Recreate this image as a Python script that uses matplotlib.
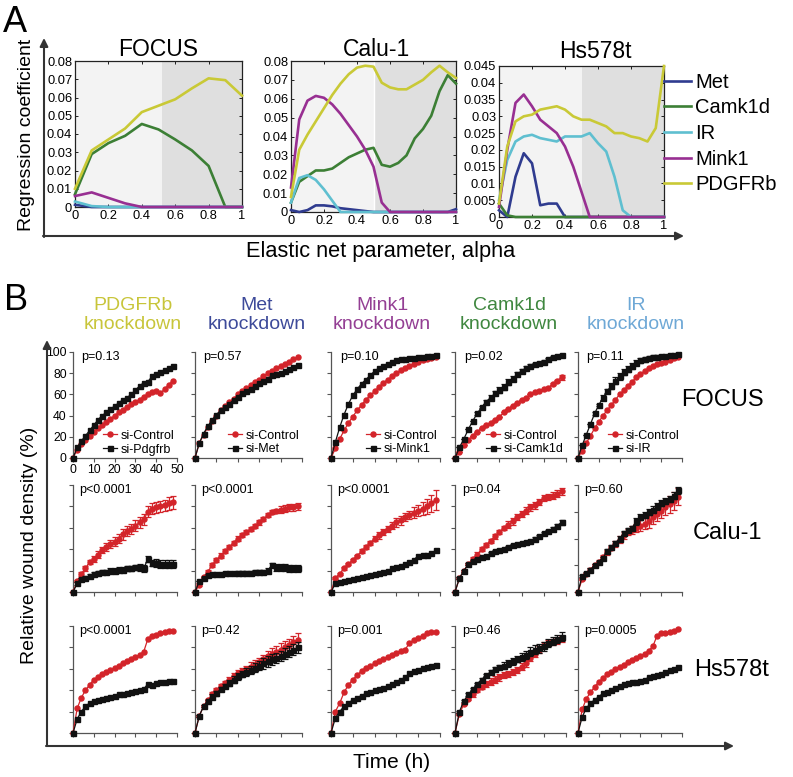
import matplotlib
matplotlib.use('Agg')
import matplotlib.pyplot as plt
from matplotlib.lines import Line2D
from matplotlib.ticker import FuncFormatter

plt.rcParams['font.family'] = ['Liberation Sans', 'DejaVu Sans']

W, H = 793, 777

# ---------------- panel A: regression coefficients vs alpha ----------------
alpha_coarse = [0, 0.1, 0.2, 0.3, 0.4, 0.5, 0.6, 0.7, 0.8, 0.9, 1.0]
focus_met = [0.0012, 0, 0, 0, 0, 0, 0, 0, 0, 0, 0]
focus_camk1d = [0.007, 0.029, 0.035, 0.039, 0.0455, 0.0425, 0.037, 0.031, 0.0225, 0, 0]
focus_ir = [0.003, 0.0005, 0, 0, 0, 0, 0, 0, 0, 0, 0]
focus_mink1 = [0.006, 0.008, 0.005, 0.002, 0, 0, 0, 0, 0, 0, 0]
focus_pdgfrb = [0.010, 0.031, 0.037, 0.043, 0.052, 0.0555, 0.059, 0.065, 0.0705, 0.0695, 0.061]

alpha_fine = [0, 0.05, 0.1, 0.15, 0.2, 0.25, 0.3, 0.35, 0.4, 0.45, 0.5,
              0.55, 0.6, 0.65, 0.7, 0.75, 0.8, 0.85, 0.9, 0.95, 1.0]
calu_met = [0.001, 0, 0.001, 0.0035, 0.0035, 0.003, 0.002, 0.0015, 0.001, 0.0005, 0,
            0, 0, 0, 0, 0, 0, 0, 0, 0, 0.0015]
calu_camk1d = [0.005, 0.016, 0.019, 0.022, 0.022, 0.023, 0.026, 0.029, 0.031, 0.033, 0.034,
               0.025, 0.024, 0.026, 0.030, 0.039, 0.044, 0.051, 0.064, 0.0725, 0.068]
calu_ir = [0.005, 0.018, 0.0195, 0.017, 0.012, 0.006, 0, 0, 0, 0, 0,
           0, 0, 0, 0, 0, 0, 0, 0, 0, 0]
calu_mink1 = [0.013, 0.049, 0.059, 0.0615, 0.0605, 0.057, 0.052, 0.046, 0.040, 0.033, 0.024,
              0.005, 0, 0, 0, 0, 0, 0, 0, 0, 0]
calu_pdgfrb = [0.008, 0.033, 0.041, 0.048, 0.055, 0.062, 0.068, 0.073, 0.0765, 0.0775, 0.077,
               0.0685, 0.066, 0.065, 0.065, 0.0675, 0.070, 0.074, 0.0775, 0.074, 0.071]

hs_met = [0.002, 0, 0.012, 0.019, 0.016, 0.0035, 0.004, 0.004, 0, 0, 0,
          0, 0, 0, 0, 0, 0, 0, 0, 0, 0]
hs_camk1d = [0.004, 0.0005, 0, 0, 0, 0, 0, 0, 0, 0, 0,
             0, 0, 0, 0, 0, 0, 0, 0, 0, 0]
hs_ir = [0.005, 0.017, 0.0225, 0.024, 0.0245, 0.0235, 0.023, 0.0225, 0.024, 0.024, 0.024,
         0.025, 0.022, 0.0195, 0.012, 0.002, 0, 0, 0, 0, 0]
hs_mink1 = [0.003, 0.020, 0.034, 0.0365, 0.033, 0.029, 0.027, 0.025, 0.021, 0.015, 0.0075,
            0, 0, 0, 0, 0, 0, 0, 0, 0, 0]
hs_pdgfrb = [0.004, 0.021, 0.0285, 0.030, 0.0305, 0.032, 0.0325, 0.033, 0.032, 0.030, 0.029,
             0.029, 0.028, 0.027, 0.025, 0.025, 0.024, 0.0235, 0.0225, 0.0265, 0.045]

gene_names = ['Met', 'Camk1d', 'IR', 'Mink1', 'PDGFRb']
gene_line_colors = ['#2f3b8f', '#3c7f35', '#5fbfd0', '#982f92', '#c9c936']

# ---------------- panel B: wound density time courses ----------------
t_hours = [0, 2, 4, 6, 8, 10, 12, 14, 16, 18, 20, 22, 24, 26, 28, 30, 32, 34, 36, 38, 40, 42, 44, 46, 48]

# FOCUS
f_pdgfrb_ctrl = [0, 8, 13, 17, 21, 25, 28, 31, 34, 37, 40, 43, 45, 48, 51, 53, 55, 58, 60, 62, 63, 61, 65, 69, 73]
f_pdgfrb_si = [0, 10, 16, 21, 26, 31, 36, 40, 43, 46, 49, 52, 55, 57, 60, 64, 68, 71, 72, 77, 79, 81, 83, 85, 87]
f_met_ctrl = [0, 14, 22, 29, 35, 40, 45, 49, 53, 56, 60, 63, 66, 69, 72, 74, 77, 80, 82, 85, 87, 89, 91, 93, 95]
f_met_si = [0, 14, 23, 30, 36, 41, 45, 48, 51, 55, 58, 61, 63, 65, 68, 71, 73, 75, 78, 79, 80, 82, 84, 86, 88]
f_mink1_ctrl = [0, 9, 18, 26, 33, 39, 45, 50, 55, 59, 63, 67, 71, 74, 77, 80, 83, 85, 87, 89, 91, 92, 93, 94, 95]
f_mink1_si = [0, 15, 29, 41, 51, 59, 65, 70, 74, 78, 82, 85, 87, 89, 91, 92, 93, 93, 94, 94, 95, 95, 96, 96, 97]
f_camk1d_ctrl = [0, 6, 12, 17, 21, 25, 28, 31, 33, 36, 39, 43, 46, 49, 52, 55, 57, 60, 62, 63, 65, 66, 70, 73, 76]
f_camk1d_si = [0, 10, 18, 27, 35, 42, 48, 53, 57, 61, 64, 67, 72, 75, 79, 82, 85, 87, 89, 90, 91, 93, 95, 96, 97]
f_ir_ctrl = [0, 7, 14, 21, 28, 34, 40, 45, 50, 55, 60, 64, 68, 72, 76, 79, 82, 85, 87, 89, 90, 91, 92, 94, 95]
f_ir_si = [0, 12, 22, 32, 42, 50, 57, 63, 68, 73, 77, 81, 84, 87, 90, 92, 93, 94, 95, 95, 96, 96, 97, 97, 98]

# Calu-1
c_pdgfrb_ctrl = [0, 10, 17, 22, 28, 31, 35, 39, 42, 45, 47, 50, 54, 57, 59, 62, 65, 68, 75, 78, 79, 80, 81, 83, 84]
c_pdgfrb_si = [0, 8, 12, 13, 15, 17, 18, 19, 19, 20, 20, 21, 21, 22, 22, 23, 23, 22, 31, 27, 27, 26, 26, 26, 26]
c_met_ctrl = [0, 7, 14, 19, 25, 30, 34, 38, 42, 46, 50, 53, 56, 59, 62, 65, 68, 72, 75, 76, 77, 78, 79, 79, 80]
c_met_si = [0, 10, 13, 16, 17, 17, 17, 18, 18, 18, 18, 18, 18, 18, 19, 19, 19, 20, 25, 23, 23, 23, 22, 22, 22]
c_mink1_ctrl = [0, 13, 17, 22, 26, 30, 34, 38, 42, 46, 50, 53, 56, 59, 62, 65, 67, 70, 72, 74, 76, 78, 80, 83, 86]
c_mink1_si = [0, 8, 9, 10, 11, 12, 13, 14, 15, 16, 17, 18, 19, 20, 22, 23, 24, 26, 28, 30, 34, 35, 35, 36, 39]
c_camk1d_ctrl = [0, 13, 20, 26, 31, 35, 40, 44, 48, 52, 56, 60, 63, 66, 70, 73, 76, 79, 81, 84, 88, 89, 90, 92, 94]
c_camk1d_si = [0, 13, 20, 26, 29, 31, 33, 34, 36, 38, 39, 40, 42, 44, 45, 46, 47, 48, 50, 52, 55, 57, 59, 62, 65]
c_ir_ctrl = [0, 12, 17, 21, 25, 28, 33, 37, 41, 45, 49, 53, 56, 58, 60, 62, 64, 66, 70, 73, 76, 79, 82, 85, 89]
c_ir_si = [0, 15, 18, 21, 25, 28, 32, 38, 42, 46, 50, 55, 58, 60, 66, 70, 72, 75, 77, 80, 83, 85, 87, 90, 95]

# Hs578t
h_pdgfrb_ctrl = [0, 23, 33, 40, 45, 50, 52, 55, 57, 59, 61, 63, 65, 67, 69, 71, 73, 76, 88, 91, 92, 93, 94, 95, 95]
h_pdgfrb_si = [0, 13, 20, 25, 28, 30, 31, 32, 33, 34, 35, 36, 36, 37, 38, 39, 40, 41, 46, 45, 47, 48, 48, 49, 49]
h_met_ctrl = [0, 16, 25, 31, 36, 40, 44, 47, 50, 53, 56, 58, 60, 62, 64, 66, 69, 72, 74, 76, 78, 80, 82, 85, 87]
h_met_si = [0, 16, 25, 30, 34, 37, 41, 44, 47, 50, 53, 55, 57, 59, 61, 63, 65, 67, 69, 70, 72, 74, 76, 78, 80]
h_mink1_ctrl = [0, 20, 28, 38, 45, 50, 54, 58, 61, 63, 65, 67, 69, 71, 73, 75, 77, 78, 84, 87, 89, 91, 93, 94, 94]
h_mink1_si = [0, 14, 20, 25, 28, 31, 33, 35, 37, 38, 40, 41, 42, 44, 46, 48, 50, 52, 56, 58, 59, 61, 62, 63, 64]
h_camk1d_ctrl = [0, 18, 27, 32, 36, 40, 43, 46, 48, 50, 52, 54, 55, 57, 59, 62, 65, 70, 74, 78, 82, 84, 85, 86, 88]
h_camk1d_si = [0, 20, 30, 36, 41, 46, 50, 54, 57, 60, 62, 63, 65, 67, 69, 71, 73, 76, 78, 79, 81, 84, 86, 88, 90]
h_ir_ctrl = [0, 22, 32, 38, 43, 48, 51, 55, 57, 60, 62, 64, 66, 68, 70, 72, 74, 77, 81, 91, 93, 93, 94, 95, 97]
h_ir_si = [0, 15, 23, 28, 31, 34, 37, 38, 40, 42, 44, 46, 47, 48, 48, 49, 50, 52, 53, 54, 55, 57, 59, 60, 62]

# error bars (SEM) where they are visible
f_camk1d_ctrl_err = [0, 0, 0, 0, 0, 0, 0, 0, 0, 0, 0, 0, 0, 0, 0, 0, 0, 0, 0, 0, 0, 0, 1, 1, 2]
f_camk1d_si_err = [0, 0, 0, 0, 0, 1, 1, 2, 2, 2, 3, 3, 3, 2, 2, 2, 2, 2, 1, 1, 1, 1, 1, 1, 1]
f_ir_si_err = [0, 0, 0, 0, 1, 1, 2, 2, 3, 3, 3, 3, 3, 3, 2, 2, 2, 2, 2, 2, 1, 1, 1, 1, 1]
c_pdgfrb_ctrl_err = [0, 1, 2, 2, 2, 3, 3, 3, 4, 4, 4, 4, 5, 5, 5, 5, 5, 5, 5, 5, 5, 5, 5, 6, 6]
c_pdgfrb_si_err = [0, 1, 1, 2, 2, 2, 2, 2, 2, 2, 2, 2, 2, 2, 2, 2, 3, 3, 3, 3, 4, 4, 4, 4, 4]
c_met_ctrl_err = [0, 1, 1, 2, 2, 2, 2, 2, 2, 2, 2, 2, 2, 2, 2, 2, 2, 2, 2, 2, 3, 3, 3, 3, 3]
c_met_si_err = [0, 0, 1, 1, 1, 1, 1, 1, 1, 1, 2, 2, 2, 2, 2, 2, 2, 2, 2, 3, 3, 3, 3, 3, 3]
c_mink1_ctrl_err = [0, 1, 1, 1, 1, 1, 1, 2, 2, 2, 2, 3, 3, 3, 3, 4, 4, 4, 4, 5, 5, 6, 7, 8, 9]
c_camk1d_ctrl_err = [0, 1, 1, 1, 2, 2, 2, 2, 2, 2, 2, 2, 3, 3, 3, 3, 3, 3, 3, 3, 3, 3, 3, 3, 3]
c_camk1d_si_err = [0, 1, 1, 1, 1, 1, 1, 1, 1, 1, 1, 1, 1, 1, 1, 1, 1, 1, 1, 1, 1, 1, 2, 2, 2]
c_ir_ctrl_err = [0, 1, 1, 1, 1, 2, 2, 2, 2, 3, 3, 3, 3, 4, 4, 5, 5, 6, 6, 7, 7, 7, 8, 8, 8]
c_ir_si_err = [0, 1, 1, 1, 1, 1, 1, 2, 2, 2, 2, 2, 2, 2, 3, 3, 3, 3, 3, 3, 3, 3, 3, 3, 3]
h_met_ctrl_err = [0, 1, 1, 1, 2, 2, 2, 2, 2, 3, 3, 3, 3, 4, 4, 4, 4, 5, 5, 5, 6, 6, 6, 6, 6]
h_met_si_err = [0, 1, 1, 1, 2, 2, 2, 2, 3, 3, 3, 3, 4, 4, 4, 4, 5, 5, 5, 5, 5, 5, 5, 5, 5]
h_camk1d_ctrl_err = [0, 1, 1, 1, 2, 2, 2, 3, 3, 3, 3, 3, 3, 3, 3, 3, 3, 3, 3, 3, 3, 3, 3, 3, 3]
h_camk1d_si_err = [0, 1, 1, 1, 1, 1, 1, 1, 2, 2, 2, 3, 3, 3, 3, 4, 4, 4, 4, 4, 4, 4, 4, 4, 4]

p_focus = ['p=0.13', 'p=0.57', 'p=0.10', 'p=0.02', 'p=0.11']
p_calu = ['p<0.0001', 'p<0.0001', 'p<0.0001', 'p=0.04', 'p=0.60']
p_hs = ['p<0.0001', 'p=0.42', 'p=0.001', 'p=0.46', 'p=0.0005']
knockdowns = ['PDGFRb', 'Met', 'Mink1', 'Camk1d', 'IR']
knockdown_colors = ['#c8c53a', '#3d4a9a', '#943f94', '#3f873f', '#6ea8d6']
si_labels = ['si-Pdgfrb', 'si-Met', 'si-Mink1', 'si-Camk1d', 'si-IR']
cell_lines = ['FOCUS', 'Calu-1', 'Hs578t']


def px_box(x0, y0, x1, y1):
    return [x0 / W, 1 - y1 / H, (x1 - x0) / W, (y1 - y0) / H]


fig = plt.figure(figsize=(W / 100, H / 100), dpi=100)
fig.patch.set_facecolor('white')

# --- panel A axes
fmt = FuncFormatter(lambda v, p: '%g' % round(v, 4))
a_panels = [
    ('FOCUS', (75, 61, 242, 207), alpha_coarse,
     [focus_met, focus_camk1d, focus_ir, focus_mink1, focus_pdgfrb], 0.08, 0.01, 0.52),
    ('Calu-1', (291, 61, 456, 212), alpha_fine,
     [calu_met, calu_camk1d, calu_ir, calu_mink1, calu_pdgfrb], 0.08, 0.01, 0.5),
    ('Hs578t', (499, 66, 664, 217), alpha_fine,
     [hs_met, hs_camk1d, hs_ir, hs_mink1, hs_pdgfrb], 0.045, 0.005, 0.5),
]
for name, b, xs, series, ymax, ystep, split in a_panels:
    ax = fig.add_axes(px_box(*b))
    ax.axvspan(0, split, color='#f3f3f3', lw=0, zorder=0)
    ax.axvspan(split, 1, color='#dfdfdf', lw=0, zorder=0)
    if name == 'Calu-1':
        ax.axvline(split, color='white', lw=1, zorder=1)
    lines = []
    for vals, col, lab in zip(series, gene_line_colors, gene_names):
        ln, = ax.plot(xs, vals, color=col, lw=1.9, label=lab, clip_on=False, zorder=3)
        lines.append(ln)
    ax.set_xlim(0, 1)
    ax.set_ylim(0, ymax)
    n = int(round(ymax / ystep))
    ax.set_yticks([i * ystep for i in range(n + 1)])
    ax.set_xticks([0, 0.2, 0.4, 0.6, 0.8, 1.0])
    ax.xaxis.set_major_formatter(fmt)
    ax.yaxis.set_major_formatter(fmt)
    ax.tick_params(direction='in', top=True, right=True, length=2.5, width=0.6,
                   labelsize=9.3, pad=2)
    for s in ax.spines.values():
        s.set_linewidth(0.9)
        s.set_color('#222222')
    if name == 'Hs578t':
        ax.legend(handles=lines, loc='upper left', bbox_to_anchor=(1.0, 0.955),
                  frameon=False, fontsize=14.5, handlelength=1.35, handletextpad=0.2,
                  labelspacing=0.33, borderaxespad=0.0, borderpad=0.0)

# --- panel B axes
col_x = [(73, 177), (195, 302), (331, 440), (455, 566), (578, 682)]
row_y = [(352, 458), (485, 592), (626, 733)]

ctrl_rows = [
    [f_pdgfrb_ctrl, f_met_ctrl, f_mink1_ctrl, f_camk1d_ctrl, f_ir_ctrl],
    [c_pdgfrb_ctrl, c_met_ctrl, c_mink1_ctrl, c_camk1d_ctrl, c_ir_ctrl],
    [h_pdgfrb_ctrl, h_met_ctrl, h_mink1_ctrl, h_camk1d_ctrl, h_ir_ctrl],
]
si_rows = [
    [f_pdgfrb_si, f_met_si, f_mink1_si, f_camk1d_si, f_ir_si],
    [c_pdgfrb_si, c_met_si, c_mink1_si, c_camk1d_si, c_ir_si],
    [h_pdgfrb_si, h_met_si, h_mink1_si, h_camk1d_si, h_ir_si],
]
ctrl_err_rows = [
    [None, None, None, f_camk1d_ctrl_err, None],
    [c_pdgfrb_ctrl_err, c_met_ctrl_err, c_mink1_ctrl_err, c_camk1d_ctrl_err, c_ir_ctrl_err],
    [None, h_met_ctrl_err, None, h_camk1d_ctrl_err, None],
]
si_err_rows = [
    [None, None, None, f_camk1d_si_err, f_ir_si_err],
    [c_pdgfrb_si_err, c_met_si_err, None, c_camk1d_si_err, c_ir_si_err],
    [None, h_met_si_err, None, h_camk1d_si_err, None],
]
p_rows = [p_focus, p_calu, p_hs]

red = '#d3242a'
dark = '#111111'
for r in range(3):
    for c in range(5):
        ax = fig.add_axes(px_box(col_x[c][0], row_y[r][0], col_x[c][1], row_y[r][1]))
        ax.patch.set_alpha(0)
        ax.errorbar(t_hours, ctrl_rows[r][c], yerr=ctrl_err_rows[r][c], color=red,
                    marker='o', ms=3.6, lw=0.9, elinewidth=0.9, capsize=2, capthick=0.9,
                    clip_on=False, zorder=3)
        ax.errorbar(t_hours, si_rows[r][c], yerr=si_err_rows[r][c], color=dark,
                    marker='s', ms=3.6, lw=0.9, elinewidth=0.9, capsize=2, capthick=0.9,
                    clip_on=False, zorder=4)
        ax.set_xlim(0, 50)
        ax.set_ylim(0, 100)
        ax.set_xticks([0, 10, 20, 30, 40, 50])
        if r == 1 and c == 4:
            ax.set_yticks([0, 25, 50, 75, 100])
        else:
            ax.set_yticks([0, 20, 40, 60, 80, 100])
        if not (r == 0 and c == 0):
            ax.set_xticklabels([])
            ax.set_yticklabels([])
        ax.tick_params(length=3, width=0.8, color='#555555', labelsize=8.8, pad=1.5)
        for side in ('top', 'right'):
            ax.spines[side].set_visible(False)
        for side in ('left', 'bottom'):
            ax.spines[side].set_color('#555555')
            ax.spines[side].set_linewidth(0.9)
        ax.text(0.06 if r else 0.08, 0.95, p_rows[r][c], transform=ax.transAxes,
                fontsize=9, ha='left', va='center')
        if r == 0:
            handles = [Line2D([], [], color=red, marker='o', ms=3.6, lw=0.9),
                       Line2D([], [], color=dark, marker='s', ms=3.6, lw=0.9)]
            ax.legend(handles, ['si-Control', si_labels[c]], loc='lower right',
                      frameon=False, fontsize=9, handlelength=1.1, handletextpad=0.3,
                      labelspacing=0.15, borderaxespad=0.1, borderpad=0.1)

# --- overlay for arrows and free text, in pixel coordinates
ov = fig.add_axes([0, 0, 1, 1])
ov.set_xlim(0, W)
ov.set_ylim(H, 0)
ov.axis('off')
ov.patch.set_alpha(0)

arrow = dict(arrowstyle='-|>', color='#333333', lw=1.5, mutation_scale=12,
             shrinkA=0, shrinkB=0)
ov.annotate('', xy=(44, 38), xytext=(44, 237), arrowprops=arrow)
ov.annotate('', xy=(684, 236), xytext=(43, 236), arrowprops=arrow)
ov.annotate('', xy=(47, 340), xytext=(47, 746), arrowprops=arrow)
ov.annotate('', xy=(734, 746), xytext=(46, 746), arrowprops=arrow)

ov.text(15, 22, 'A', fontsize=26, ha='center', va='center')
ov.text(16, 300, 'B', fontsize=26, ha='center', va='center')
ov.text(27, 135, 'Regression coefficient', fontsize=14, rotation=90, ha='center', va='center')
ov.text(381, 252, 'Elastic net parameter, alpha', fontsize=15.7, ha='center', va='center')
ov.text(30, 545, 'Relative wound density (%)', fontsize=14, rotation=90, ha='center', va='center')
ov.text(392, 763, 'Time (h)', fontsize=15, ha='center', va='center')

for name, cx, cy in zip([p[0] for p in a_panels], [158, 376, 595], [49, 50, 52]):
    ov.text(cx, cy, name, fontsize=16.5, ha='center', va='center')

for name, cx, cy in zip(cell_lines, [722, 728, 732], [400, 533, 670]):
    ov.text(cx, cy, name, fontsize=17, ha='center', va='center')

for kd, col, cx in zip(knockdowns, knockdown_colors, [133, 257, 382, 509, 636]):
    ov.text(cx, 315, kd + '\nknockdown', fontsize=14, color=col, ha='center',
            va='center', linespacing=1.2)

fig.savefig('out.png', dpi=100)
